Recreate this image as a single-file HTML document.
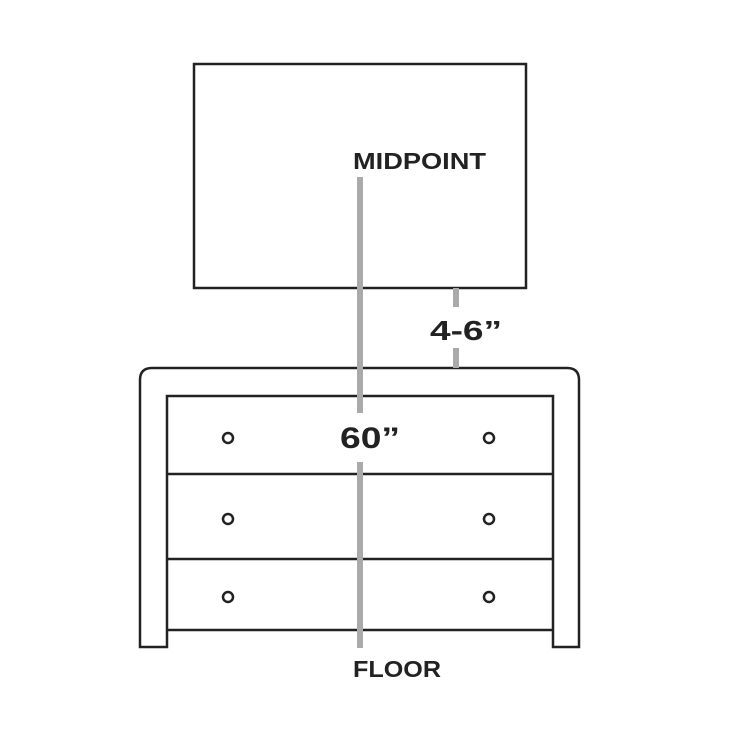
<!DOCTYPE html>
<html><head><style>body{margin:0;background:#fff}svg{display:block}</style></head>
<body>
<svg width="748" height="748" viewBox="0 0 748 748" xmlns="http://www.w3.org/2000/svg">
<g fill="none" stroke="#222" stroke-width="2.5">
<rect x="194" y="64" width="332" height="224"/>
<path d="M140 647 V380 Q140 368 152 368 H567 Q579 368 579 380 V647 H553 V396 H167 V647 Z"/>
<line x1="167" y1="630" x2="553" y2="630"/>
<line x1="167" y1="474" x2="553" y2="474"/>
<line x1="167" y1="559" x2="553" y2="559"/>
<circle cx="228" cy="438" r="5"/><circle cx="489" cy="438" r="5"/>
<circle cx="228" cy="519" r="5"/><circle cx="489" cy="519" r="5"/>
<circle cx="228" cy="597" r="5"/><circle cx="489" cy="597" r="5"/>
</g>
<g stroke="#aaa" stroke-width="6">
<line x1="360" y1="177" x2="360" y2="413"/>
<line x1="360" y1="462" x2="360" y2="648"/>
<line x1="456" y1="288" x2="456" y2="307"/>
<line x1="456" y1="348" x2="456" y2="368"/>
</g>
<g font-family="Liberation Sans, sans-serif" font-weight="bold" fill="#222">
<text x="353" y="169" font-size="23" textLength="133" lengthAdjust="spacingAndGlyphs">MIDPOINT</text>
<text x="353" y="677" font-size="23" textLength="88" lengthAdjust="spacingAndGlyphs">FLOOR</text>
<text x="430" y="340" font-size="28" textLength="72" lengthAdjust="spacingAndGlyphs">4-6”</text>
<text x="340" y="448" font-size="30" textLength="60" lengthAdjust="spacingAndGlyphs">60”</text>
</g>
</svg>
</body></html>
